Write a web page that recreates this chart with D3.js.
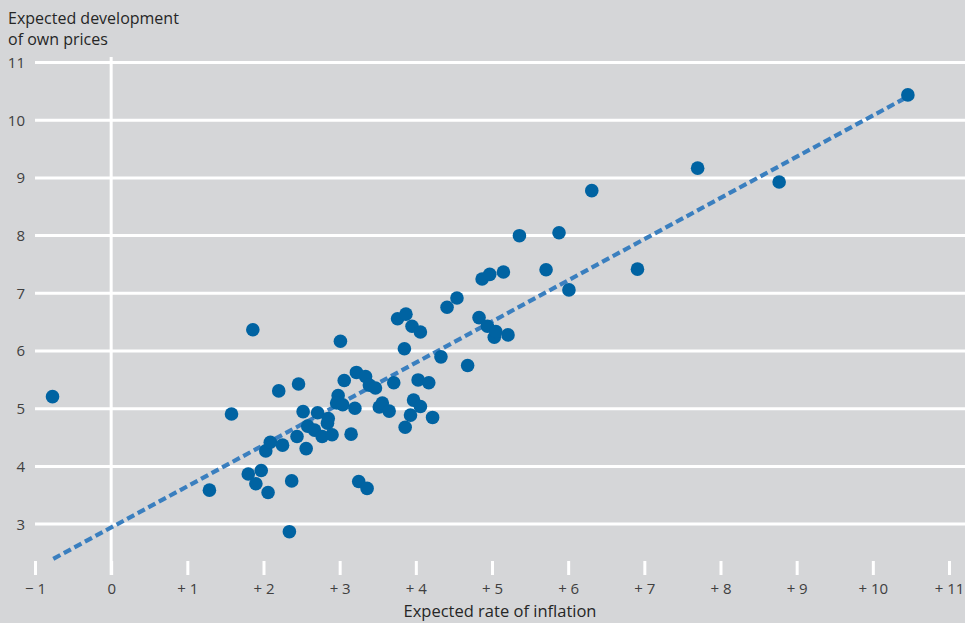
<!DOCTYPE html>
<html>
<head>
<meta charset="utf-8">
<script src="https://cdn.jsdelivr.net/npm/d3@7"></script>
<style>
  html, body { margin: 0; padding: 0; background: #d5d6d8; }
  svg { display: block; }
  text { font-family: "Open Sans", "Noto Sans", sans-serif; }
</style>
</head>
<body>
<svg id="chart" width="965" height="623"></svg>
<script>
// Expected rate of inflation (x) for each respondent group
const inflation = [
  -0.77, 1.86, 1.58, 1.29, 2.20, 2.46, 1.80, 1.97, 1.90, 2.06,
  2.37, 2.34, 2.03, 2.09, 2.25, 2.44, 2.56, 2.52, 2.71, 2.58,
  2.67, 2.77, 2.85, 2.84, 2.90, 3.01, 2.98, 2.96, 3.04, 3.06,
  3.20, 3.15, 3.22, 3.34, 3.39, 3.47, 3.25, 3.36, 3.71, 3.52,
  3.56, 3.65, 3.85, 3.76, 3.87, 3.95, 4.06, 4.03, 4.17, 4.33,
  4.68, 3.97, 4.06, 3.93, 3.86, 4.22, 4.41, 4.54, 4.83, 4.94,
  5.03, 5.05, 5.21, 4.87, 4.97, 5.15, 5.36, 5.71, 5.88, 6.01,
  6.31, 6.91, 7.70, 8.77, 10.46
];
// Expected development of own prices (y)
const ownPrices = [
  5.20, 6.36, 4.90, 3.58, 5.30, 5.42, 3.86, 3.92, 3.69, 3.54,
  3.74, 2.86, 4.26, 4.41, 4.36, 4.51, 4.30, 4.94, 4.92, 4.69,
  4.62, 4.51, 4.82, 4.74, 4.54, 6.16, 5.22, 5.09, 5.06, 5.48,
  5.00, 4.55, 5.62, 5.55, 5.40, 5.35, 3.73, 3.61, 5.44, 5.02,
  5.09, 4.95, 6.03, 6.55, 6.63, 6.42, 6.32, 5.49, 5.44, 5.89,
  5.74, 5.14, 5.03, 4.88, 4.67, 4.84, 6.75, 6.91, 6.57, 6.42,
  6.23, 6.33, 6.27, 7.24, 7.32, 7.36, 7.99, 7.40, 8.04, 7.05,
  8.77, 7.41, 9.16, 8.92, 10.43
];
// Trend line end points
const trendX = [-0.76, 10.46];
const trendY = [2.39, 10.40];

const xTicks = [-1, 0, 1, 2, 3, 4, 5, 6, 7, 8, 9, 10, 11];
const xTickLabels = ["\u2212 1", "0", "+ 1", "+ 2", "+ 3", "+ 4", "+ 5", "+ 6", "+ 7", "+ 8", "+ 9", "+ 10", "+ 11"];
const yTicks = [3, 4, 5, 6, 7, 8, 9, 10, 11];
const yTickLabels = ["3", "4", "5", "6", "7", "8", "9", "10", "11"];

const titleLines = ["Expected development", "of own prices"];
const xTitle = "Expected rate of inflation";

const W = 965, H = 623;
const FONT = "'Open Sans', 'Noto Sans', sans-serif";
const svg = d3.select("#chart");
svg.append("rect").attr("width", W).attr("height", H).attr("fill", "#d5d6d8");

const x = d3.scaleLinear().domain([-1, 11]).range([35, 949]);
const y = d3.scaleLinear().domain([3, 11]).range([523.6, 62]);

// Horizontal gridlines
const yAxis = d3.axisLeft(y).tickValues(yTicks).tickSize(-(W - 35))
  .tickFormat((d, i) => yTickLabels[i]);
const gy = svg.append("g").attr("transform", "translate(35,0)").call(yAxis);
gy.select(".domain").remove();
gy.selectAll(".tick line").attr("stroke", "#ffffff").attr("stroke-width", 3);
gy.selectAll(".tick text")
  .attr("x", -10).attr("dy", "0.36em")
  .attr("fill", "#404040").style("font-size", "15px")
  .style("font-family", FONT);

// Vertical zero line
svg.append("line")
  .attr("x1", x(0)).attr("x2", x(0))
  .attr("y1", 57).attr("y2", 575)
  .attr("stroke", "#ffffff").attr("stroke-width", 3);

// X axis ticks
const xAxis = d3.axisBottom(x).tickValues(xTicks).tickSize(14).tickPadding(8)
  .tickFormat((d, i) => xTickLabels[i]);
const gx = svg.append("g").attr("transform", "translate(0,561)").call(xAxis);
gx.select(".domain").remove();
gx.selectAll(".tick line").attr("stroke", "#ffffff").attr("stroke-width", 3);
gx.selectAll(".tick text")
  .attr("y", 31).attr("dy", "0.1em")
  .attr("fill", "#404040").style("font-size", "15px")
  .style("font-family", FONT);

// Trend line
const line = d3.line().x(d => x(d[0])).y(d => y(d[1]));
svg.append("path")
  .datum(trendX.map((v, i) => [v, trendY[i]]))
  .attr("d", line)
  .attr("fill", "none")
  .attr("stroke", "#3a7fbf")
  .attr("stroke-width", 4.2)
  .attr("stroke-dasharray", "8,4");

// Points
svg.append("g").selectAll("circle")
  .data(inflation.map((v, i) => [v, ownPrices[i]]))
  .join("circle")
  .attr("cx", d => x(d[0]))
  .attr("cy", d => y(d[1]))
  .attr("r", 6.8)
  .attr("fill", "#0063a2");

// Titles
const t = svg.append("text").attr("fill", "#262626")
  .style("font-size", "16px").style("font-weight", 500);
titleLines.forEach((s, i) => {
  t.append("tspan").attr("x", 8).attr("y", 24 + i * 20.5).text(s);
});

svg.append("text")
  .attr("x", 500).attr("y", 616.5)
  .attr("text-anchor", "middle")
  .attr("fill", "#262626")
  .style("font-size", "16.5px").style("font-weight", 500)
  .text(xTitle);
</script>
</body>
</html>
